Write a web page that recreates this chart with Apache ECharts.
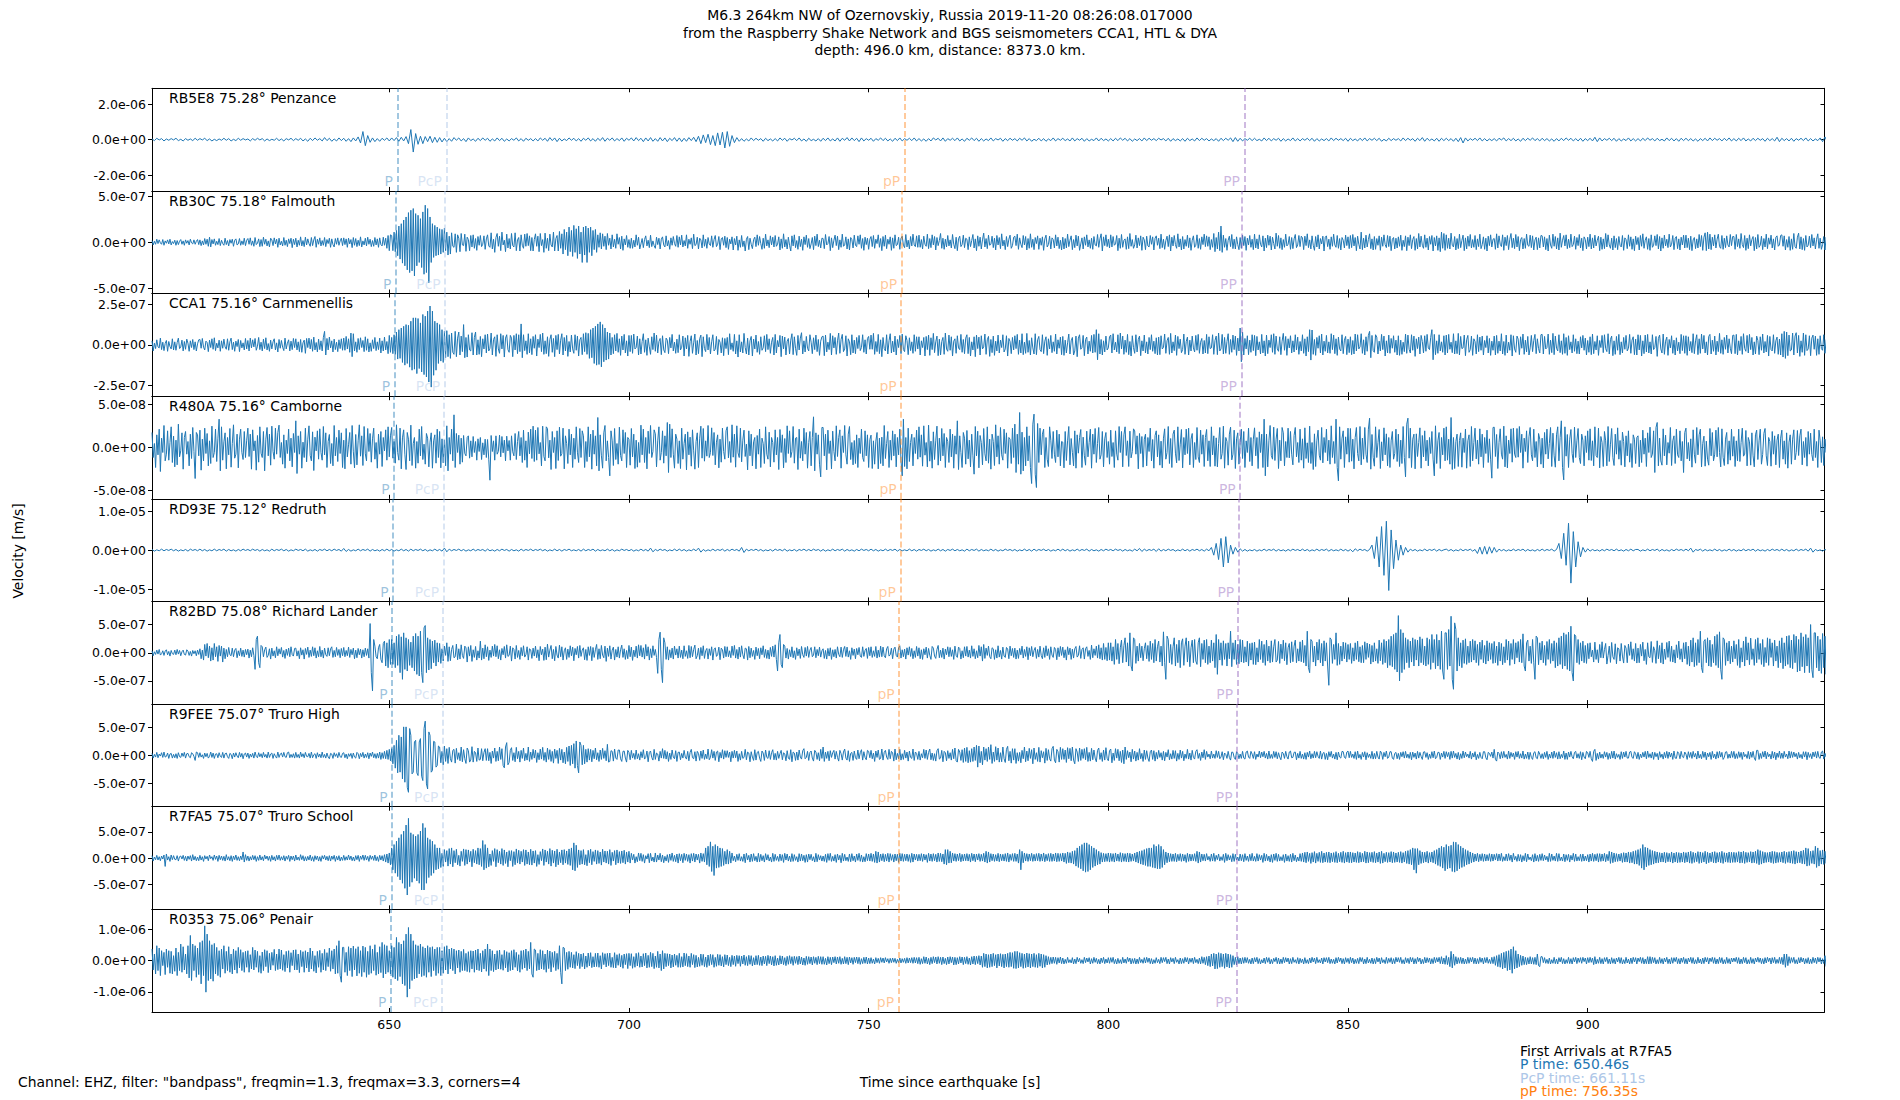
<!DOCTYPE html>
<html>
<head>
<meta charset="utf-8">
<script src="https://cdn.jsdelivr.net/npm/echarts@6/dist/echarts.min.js"></script>
<style>
  html, body { margin: 0; padding: 0; background: #fff; }
  #chart { width: 1900px; height: 1100px; }
</style>
</head>
<body>
<div id="chart"></div>
<script>
// stations, top to bottom
const stations = [
  'RB5E8 75.28° Penzance', 'RB30C 75.18° Falmouth', 'CCA1 75.16° Carnmenellis',
  'R480A 75.16° Camborne', 'RD93E 75.12° Redruth', 'R82BD 75.08° Richard Lander',
  'R9FEE 75.07° Truro High', 'R7FA5 75.07° Truro School', 'R0353 75.06° Penair'
]
// y limits (+/-) and the tick value shown on each panel
const yLimits = [2.89e-6, 5.56e-7, 3.19e-7, 5.97e-8, 1.315e-5, 9.09e-7, 9.27e-7, 9.84e-7, 1.64e-6]
const yTickValues = [2e-6, 5e-7, 2.5e-7, 5e-8, 1e-5, 5e-7, 5e-7, 5e-7, 1e-6]
// each trace is stored in integer amplitude units, one unit per panel
const ampUnits = [1.89e-8, 3.65e-9, 2.1e-9, 3.88e-10, 8.62e-8, 5.88e-9, 6.06e-9, 6.45e-9, 1.06e-8]
// sample spacing of each stored trace [s], all start at 600.5 s
const sampleSteps = [0.5, 0.25, 0.25, 0.25, 0.5, 0.25, 0.25, 0.25, 0.25]
const tStart = 600.5
const xTickValues = [650, 700, 750, 800, 850, 900]
// arrival times per station [s]
const pTimes = [651.7, 651.36, 651.13, 651.02, 650.8, 650.57, 650.57, 650.46, 650.35]
const pcpTimes = [661.9, 661.67, 661.56, 661.33, 661.33, 661.11, 661.2, 661.11, 661.0]
const pPTimes = [757.5, 756.9, 756.8, 756.8, 756.6, 756.35, 756.35, 756.35, 756.24]
const ppTimes = [828.4, 827.75, 827.75, 827.5, 827.2, 826.96, 826.85, 826.85, 826.74]
const phaseNames = ['P', 'PcP', 'pP', 'PP']
const phaseColors = ['rgba(31,119,180,0.55)', 'rgba(174,199,232,0.6)', 'rgba(255,127,14,0.55)', 'rgba(148,103,189,0.6)']

const trace_RB5E8 = [
2,-3,4,-1,3,-4,2,-2,3,-1,4,-3,1,-4,3,-2,2,-3,4,-2,
3,-1,4,-3,2,-4,1,-3,2,-2,4,-2,3,-4,1,-3,4,-2,3,-1,
2,-4,3,-2,4,-1,3,-4,2,-3,1,-2,4,-3,2,-4,3,-1,4,-3,
3,-2,4,-4,2,-5,4,-3,5,-2,3,-4,6,-3,4,-5,2,-4,5,-3,
4,-5,3,-6,5,-4,8,-10,24,-18,12,-8,5,-6,3,-5,4,-2,5,-4,
5,-3,6,-5,7,-4,9,-12,30,-37,18,-14,10,-12,9,-6,10,-9,7,-8,
6,-7,4,-6,3,-5,6,-2,5,-4,3,-6,5,-3,2,-5,4,-3,5,-2,
4,-5,2,-4,5,-3,4,-5,2,-4,3,-2,5,-4,3,-5,4,-2,3,-4,
3,-4,5,-2,4,-5,6,-3,5,-6,4,-4,2,-3,5,-2,4,-4,3,-5,
4,-2,5,-4,3,-5,4,-3,6,-5,4,-2,5,-4,3,-3,5,-5,4,-2,
5,-4,6,-3,4,-6,5,-4,6,-5,3,-5,6,-4,5,-6,4,-3,6,-5,
5,-6,4,-5,6,-3,7,-6,10,-12,14,-9,16,-15,12,-18,20,-16,22,-25,
24,-20,12,-9,6,-5,3,-5,2,-4,5,-3,4,-2,3,-5,4,-3,2,-4,
3,-4,5,-2,4,-5,3,-1,4,-3,5,-4,2,-5,4,-3,1,-4,3,-5,
4,-3,5,-4,2,-4,5,-5,4,-2,6,-4,5,-3,4,-6,5,-4,3,-2,
4,-5,3,-2,5,-3,4,-4,2,-5,4,-3,5,-4,3,-2,4,-3,5,-4,
3,-4,2,-5,3,-4,5,-1,4,-4,5,-5,3,-2,4,-3,5,-4,2,-5,
4,-2,5,-3,4,-5,3,-4,2,-3,5,-4,3,-1,4,-5,3,-3,4,-2,
3,-4,4,-2,5,-4,3,-5,1,-3,4,-4,3,-5,2,-3,5,-4,3,-2,
4,-3,2,-4,5,-4,3,-2,4,-5,3,-4,1,-3,5,-4,4,-3,2,-4,
3,-4,4,-3,5,-2,4,-4,3,-5,2,-3,3,-4,5,-3,4,-2,3,-3,
4,-1,3,-4,4,-5,3,-3,2,-4,3,-5,4,-3,2,-4,5,-3,4,-2,
3,-4,2,-3,3,-5,4,-3,4,-2,5,-6,6,-5,4,-4,3,-2,4,-3,
4,-3,1,-4,5,-3,4,-4,3,-2,4,-5,3,-4,2,-3,5,-4,3,-4,
3,-2,4,-3,4,-5,3,-4,2,-3,3,-4,5,-3,4,-2,3,-3,4,-5,
4,-3,2,-4,4,-3,5,-4,3,-2,4,-3,4,-5,1,-4,4,-3,3,-2,
3,-4,5,-3,4,-2,3,-5,4,-3,6,-5,4,-3,2,-4,4,-5,4,-3,
4,-3,3,-5,4,-6,6,-10,5,-4,3,-2,4,-3,5,-4,3,-4,2,-3,
3,-4,4,-1,5,-4,3,-3,4,-4,2,-5,4,-3,4,-2,5,-3,3,-4,
4,-3,3,-4,2,-5,3,-4,4,-3,5,-2,4,-4,3,-4,4,-5,3,-3,
4,-4,7,-6,5,-4,3,-2,4,-3,4,-5,3,-4,2,-3,5,-4,3,-4,
3,-4,4,-3,5,-2,3,-4,4,-3,1,-4,5,-3,4,-4,3,-5,4,-3,
4,-3,3,-4,2,-5,3,-3,4,-4,5,-3,4,-2,3,-4,4,-3,5,-4,
3,-4,4,-3,5,-4,2,-4,4,-3,4,-2,3,-5,4,-3,3,-4,7,-6,
4,-3,3,-4,4,-5,3,-2,4,-3,5,-4,3,-4,2,-3,5,-6,8,-7
]
const trace_RB30C = [
5,-8,3,-6,9,-4,7,-2,-6,8,-9,4,-3,7,-5,9,-8,2,-4,6,-9,5,-7,3,8,-6,4,-9,7,-3,5,-8,9,-2,-5,7,-6,3,8,-7,
7,-10,4,-8,11,-6,9,-12,15,-14,8,-5,10,-9,3,-7,11,-10,6,-4,-9,12,-7,5,-11,8,-3,9,-12,6,10,-8,-5,11,-9,4,-7,12,-10,6,
11,-6,13,-9,4,-12,14,-7,-3,10,-13,8,-12,15,-6,9,-11,4,-14,12,7,-10,13,-5,9,-15,12,-8,3,-11,14,-9,6,-13,10,-4,12,-16,9,-7,
12,-14,6,-9,16,-11,5,-13,15,-8,10,-4,-12,14,-10,7,17,-15,9,-6,13,-11,5,-9,14,-13,8,-4,12,-15,10,-7,-14,11,-6,13,-9,4,12,-10,
13,-7,10,-15,12,-5,8,-16,14,-9,11,-13,6,-10,16,-14,4,-8,12,-11,15,-6,9,-13,5,-12,14,-8,10,-15,13,-7,-11,15,-9,12,-18,20,-25,22,
20,-25,30,-28,35,-40,48,-50,55,-62,66,-70,75,-82,88,-90,95,-85,100,-100,85,-70,80,-60,70,-75,90,-95,110,-90,100,-120,75,-60,55,-45,50,-40,45,-38,
40,-35,38,-30,42,-25,30,-38,18,-35,28,-12,-15,25,-30,22,12,-28,26,-8,-10,24,-27,15,8,-25,20,-14,22,-18,11,-24,17,-9,20,-13,-6,19,-21,10,
22,-11,-15,28,-20,9,-30,14,26,-12,18,-25,30,-8,6,-28,24,-17,11,-20,26,-10,-14,28,-25,7,14,-26,22,-9,-18,24,-12,26,-10,19,-25,14,-26,8,
25,-12,18,-28,26,-10,8,-30,27,-18,12,-25,24,-8,-14,30,-26,11,20,-26,32,-18,25,-35,38,-22,30,-40,45,-28,35,-42,50,-30,40,-48,48,-35,30,-60,
45,-38,48,-60,42,-30,45,-40,35,-22,38,-30,22,-15,28,-20,25,-12,18,-22,26,-9,12,-20,22,-14,9,-18,25,-6,14,-20,18,-24,10,-8,20,-15,8,-18,
12,-18,6,-14,22,-9,15,-20,-5,11,-16,8,19,-11,6,-16,21,-13,4,-10,-18,15,-7,12,-20,9,16,-8,-14,19,-11,5,-21,13,-9,17,-4,-12,20,-15,
16,-8,21,-14,5,-11,22,-18,9,-6,13,-19,24,-10,-7,15,-20,12,7,-17,22,-12,9,-18,14,-5,-10,19,-15,8,20,-13,-6,17,-22,10,14,-9,18,-16,
14,-21,9,-5,16,-23,11,-8,18,-24,7,-15,20,-13,4,-26,9,17,-22,12,-6,-19,8,15,-13,22,-9,17,-4,-21,12,-18,24,-11,7,-16,19,-8,15,-14,
20,-12,-6,16,-23,10,-18,25,-14,8,-20,15,-9,-26,19,-11,22,-16,5,-21,18,-13,9,-24,16,-7,21,-15,11,-19,-5,14,-22,18,-10,24,-13,6,-17,12,
11,-19,23,-8,-4,17,-25,13,-16,6,21,-10,18,-22,7,-15,24,-12,-8,16,-20,10,-23,14,8,-17,21,-9,-13,19,-6,22,-18,11,-24,15,-7,12,-21,9,
17,-13,20,-18,9,-4,22,-15,11,-25,17,-12,21,-19,9,-6,16,-24,13,-18,22,-10,-7,15,-21,12,18,-9,-16,23,-14,6,-20,17,-11,24,-8,-13,19,-15,
21,-15,8,-20,18,-6,-12,24,-19,11,-16,22,-8,17,-23,14,-10,5,26,-18,12,-21,9,-14,20,-11,7,-17,23,-6,-19,15,-25,10,18,-13,-7,21,-16,12,
9,-22,16,-13,5,23,-17,10,-25,19,-12,15,-20,7,27,-14,11,-19,21,-9,-6,18,-16,12,-23,20,-8,14,-19,25,-11,6,-22,17,-13,9,21,-18,-10,15,
18,-10,24,-21,13,-6,-16,20,-8,17,-23,11,-18,25,-15,9,-22,14,-4,19,-21,12,-9,16,-24,10,21,-14,-7,18,-20,13,8,-17,22,-11,15,-19,6,-23,
15,-20,11,-17,24,-13,6,19,-22,8,-16,21,-11,18,-24,-5,13,-20,16,-9,22,-14,7,-18,12,-21,17,-8,-11,23,-15,10,25,-26,16,-10,22,-13,9,-17,
22,-14,17,-9,-5,20,-25,12,-18,23,-15,6,10,-21,16,-19,26,-12,8,-18,-8,21,-17,13,-10,19,-24,15,7,-22,18,-11,-14,20,-6,16,-23,12,19,-9,
12,-19,24,-16,9,-21,5,18,-13,22,-26,15,-11,20,-7,-18,25,-14,10,-23,17,-20,8,-12,21,-16,13,-24,6,19,-15,-9,22,-18,11,-21,16,-7,24,-13,
19,-12,16,-22,8,-15,26,-28,14,-20,30,-25,48,-30,21,-15,11,-24,6,18,-13,23,-19,9,-20,16,-7,-22,14,-18,21,-10,17,-24,12,-8,20,-15,9,-22,
24,-17,10,-20,22,-6,-14,19,-26,12,-16,21,-9,18,-23,15,-4,-20,27,-12,20,-18,13,-22,8,-15,24,-11,-6,17,-21,14,-19,10,23,-16,-8,20,-13,18,
13,-22,18,-10,25,-16,7,-20,19,-9,-24,17,-14,22,-20,11,-5,18,-26,15,19,-13,9,-21,16,-12,24,-8,-15,20,-18,11,-23,14,6,-17,21,-10,16,-19,
20,-16,23,-11,14,-25,18,-6,-20,30,-22,12,-17,21,-14,8,25,-19,10,-23,17,-21,11,-9,19,-24,15,-12,22,-7,-16,20,-13,18,-25,9,14,-20,12,-17,
16,-12,21,-24,6,-13,19,-25,15,-10,22,-19,8,17,-24,11,-20,26,-14,18,-9,-18,22,-15,12,-23,17,-6,20,-26,14,-11,19,-24,13,-28,30,-18,26,-24,
22,-18,12,-20,27,-9,-14,17,-23,11,-19,24,-16,5,21,-25,13,-20,18,-12,23,-17,8,-15,20,-22,10,-13,24,-19,-7,16,-21,12,-26,18,-10,22,-14,9,
11,-21,25,-17,19,-6,-13,22,-24,15,-10,20,-22,9,26,-16,12,-19,23,-14,17,-25,8,14,-20,11,-18,24,-9,-12,21,-16,19,-23,7,15,-22,13,-17,20,
19,-14,16,-22,11,-26,21,-8,-18,24,-12,17,-20,13,-23,27,-15,6,20,-11,22,-19,9,-16,24,-13,-7,18,-21,14,-10,23,-17,12,-25,16,8,-20,15,-13,
24,-20,13,-17,21,-11,6,18,-25,15,-21,10,-19,26,-14,22,-8,-18,12,-23,19,-16,11,-22,17,-9,-14,20,-24,13,8,-19,22,-12,16,-21,10,-25,18,-7,
14,-23,20,-12,25,-18,6,16,-21,11,-24,22,-15,-9,19,-10,23,-20,17,-26,13,-18,21,-11,9,-16,24,-14,-6,20,-22,12,17,-19,10,-23,15,-8,21,-17,
21,-16,12,-22,18,-25,7,14,-19,10,-17,23,-13,20,-24,15,28,-25,30,-20,24,-22,15,-11,22,-17,9,24,-13,-18,20,-21,12,-16,19,-8,-14,23,-10,17,
17,-21,23,-13,10,-18,26,-7,-16,20,-24,12,-19,22,-11,8,17,-25,14,-20,23,-15,-9,18,-22,11,-14,24,-19,13,-6,21,-17,10,-23,15,19,-12,-8,20,
22,-12,19,-23,8,-15,17,-24,10,-21,26,-13,-18,15,27,-20,16,-22,11,-24,20,-14,-9,18,-16,23,-11,13,-20,9,25,-18,12,-21,-7,17,-23,15,-12,20
]
const trace_CCA1 = [
12,-18,5,-11,15,-6,-9,20,-14,8,-17,4,13,-19,10,-5,-12,18,-15,9,-16,7,20,-11,-6,14,-18,10,-13,17,5,-19,12,-8,16,-14,9,-18,3,15,
16,-10,19,-7,-15,11,7,-20,14,-8,18,-13,21,-17,5,-9,14,-19,12,-10,17,-6,-13,18,-16,9,20,-14,8,-19,11,-5,16,-20,13,-9,6,-15,19,-12,
13,-18,20,-9,15,-6,19,-16,-4,22,-14,8,-18,17,-11,21,-15,4,-19,14,-12,9,18,-15,6,-21,16,-10,13,-7,-17,20,-12,5,15,-18,11,-14,19,-8,
18,-15,9,-20,16,-22,6,14,-25,19,-8,20,-12,16,-19,23,-15,7,-21,17,-14,12,-18,22,40,-30,19,-15,23,-9,12,-21,17,-14,8,-20,15,-11,18,-16,
20,-16,25,-12,18,-22,35,-35,33,-18,9,-22,19,-14,21,-8,13,-20,24,-16,18,-21,6,-19,15,-11,22,-17,9,-14,20,-24,12,-18,23,-15,10,-26,28,-22,
22,-26,30,-28,38,-42,45,-40,50,-52,55,-60,60,-55,58,-66,70,-75,80,-72,80,-85,78,-70,65,-80,90,-88,85,-95,100,-110,115,-125,100,-90,70,-75,65,-55,
60,-48,45,-52,40,-38,42,-35,30,-40,35,-22,-28,40,-35,20,38,-30,26,-20,60,-38,22,-36,30,-15,-18,36,-30,22,38,-30,15,-28,25,-35,18,-12,30,-24,
32,-18,-10,35,-30,16,24,-34,30,-12,-25,33,-12,28,-36,20,30,-14,-22,28,20,-35,28,-15,33,-26,30,-20,62,-38,30,-17,12,-28,33,-24,18,-29,25,-10,
30,-33,17,-8,31,-20,35,-28,12,-26,24,-34,16,30,-22,19,-35,28,-14,31,-27,14,33,-30,22,-18,28,-34,10,-21,29,-12,-25,30,-16,26,-33,15,22,-29,
33,-20,36,-28,34,-40,45,-38,50,-55,55,-60,62,-58,68,-65,60,-50,50,-45,38,-42,35,-30,22,-26,30,-18,34,-22,18,-31,26,-15,31,-24,12,-33,28,-20,
28,-25,32,-12,-8,26,-30,18,-27,10,33,-22,15,-31,20,-6,-28,24,-14,35,-19,29,-24,10,19,-29,27,-15,-23,20,14,-26,22,-9,31,-18,8,-25,17,-23,
30,-15,-7,26,-33,21,-12,28,-34,10,27,-25,6,32,-30,13,-26,18,29,-35,24,-11,-20,31,-15,22,-27,9,30,-18,-13,25,-29,16,8,-24,21,-32,19,-11,
22,-29,33,-14,6,-19,31,-27,12,-36,30,-21,9,-24,34,-8,-27,20,-30,12,25,-33,17,-12,29,-22,10,-28,24,-16,-9,27,-20,31,-14,18,-25,8,22,-30,
31,-24,13,-6,28,-35,26,-12,23,-30,11,19,-27,14,33,-29,24,-10,-31,28,-15,20,36,-27,12,-21,25,-10,-18,30,8,-26,21,-14,29,-20,16,-31,11,24,
26,-32,29,-21,8,-14,34,-30,27,-9,22,-28,12,35,-25,16,31,-20,-12,27,-33,18,9,-29,30,-24,14,-26,22,-11,28,-17,-8,30,-22,15,-27,19,25,-13,
29,-13,34,-28,10,-20,31,-26,15,-35,22,-11,-18,30,-27,12,33,-24,11,-21,26,-30,16,-8,28,-26,32,-14,-20,27,13,-29,21,-17,9,-25,30,-19,24,-12,
24,-30,12,-8,22,-33,25,-14,29,-31,21,-14,34,-23,9,26,-32,17,-30,10,22,-28,35,-12,-19,29,-16,24,-33,11,18,-25,27,-9,-14,31,-22,16,-26,20,
30,-26,22,-33,9,-15,24,-35,29,-11,23,-30,27,-12,-6,32,-28,15,25,-34,16,-23,26,-31,11,-18,29,-24,14,-8,30,-21,-12,27,-33,19,10,-26,22,-15,
27,-11,31,-28,14,-24,33,-29,8,-25,34,-22,13,-30,21,-9,-27,33,-29,15,25,-14,-20,30,-26,11,24,-31,18,-12,28,-23,9,-19,32,-27,15,-10,23,-29,
25,-31,14,-24,6,32,-27,12,22,-30,-18,26,-35,20,30,-13,-8,28,-32,16,23,-27,11,-19,28,-24,31,-22,45,-44,33,-27,16,-30,12,-21,26,-15,-9,24,
29,-24,33,-15,8,-21,30,-26,35,-12,26,-28,14,-22,31,-29,10,-33,27,-8,-25,30,-21,16,26,-32,12,-18,29,-24,9,-27,22,-14,30,-19,11,-26,21,-30,
23,-29,27,-12,-8,32,-25,12,22,-28,34,-24,9,-17,29,-31,25,-11,17,-23,-14,32,-28,10,23,-30,14,-18,26,-9,-21,28,-16,31,-25,8,19,-27,13,-24,
31,-26,24,-11,-9,30,-28,13,26,-29,35,-18,-12,31,-27,22,-25,10,33,-28,16,-22,29,-14,26,-31,20,-18,50,-50,38,-30,19,-12,27,-29,14,-22,30,-17,
28,-32,25,-15,9,-27,31,-24,12,-33,29,-26,14,-8,30,-22,33,-28,26,-12,-19,24,-29,11,34,-16,25,-31,18,-9,27,-24,12,-21,30,-15,23,-28,10,-18,
30,-25,18,-33,24,-20,45,-45,44,-28,16,-31,22,-10,27,-24,32,-30,11,-19,28,-24,9,-25,33,-14,29,-26,18,-31,23,-12,-18,30,-26,14,25,-29,17,-23,
24,-29,13,-27,32,-18,30,-12,-6,33,-25,15,-30,24,-19,28,40,-38,28,-17,-22,30,23,-27,11,-18,31,-14,26,-33,12,-24,29,-25,19,-10,27,-22,14,-30,
27,-31,14,-28,8,-20,32,-25,29,-13,-24,30,-16,26,-34,18,-11,23,-27,28,10,-24,27,-19,31,-9,-14,22,45,-44,31,-29,12,-25,30,-18,9,-22,27,-30,
29,-24,31,-13,8,-23,33,-27,12,-26,34,-30,25,-11,-9,29,-32,15,28,-22,-14,26,-31,18,10,-27,30,-20,23,-16,26,-30,13,-8,27,-24,19,-31,11,-16,
26,-30,28,-25,11,-18,33,-27,10,-31,29,-24,8,-16,30,-33,27,-12,-22,26,17,-29,24,-10,32,-28,14,-21,25,-30,-9,28,-20,13,31,-26,18,-11,-24,30,
31,-27,25,-12,-8,32,-28,14,-23,34,-29,26,-10,-18,30,-23,12,-28,33,-25,22,-31,27,-14,9,-24,30,-19,18,-26,11,-27,24,-9,28,-16,20,-30,13,-22,
24,-29,32,-26,10,-15,27,-31,13,-8,28,-23,30,-11,-20,33,-27,16,26,-32,12,-28,25,-16,31,-29,9,-24,22,-13,28,-18,-10,31,-25,14,24,-29,17,-30,
30,-15,28,-33,12,-26,29,-21,31,-24,9,-27,30,-14,-8,25,-34,19,29,-12,-24,32,-28,11,23,-31,16,-9,27,-25,14,-30,21,-18,8,-26,31,-17,27,-25,
27,-31,24,-18,10,-23,33,-26,12,30,-29,18,-25,32,-12,28,-24,9,-30,25,31,-27,14,-19,26,-30,11,-20,34,-25,15,-28,22,-13,29,-24,18,-10,-26,28,
29,-26,31,-30,12,-17,25,-28,33,-11,-19,28,-24,31,-14,22,-30,9,-27,26,13,-29,24,-16,32,-24,10,-21,28,-33,25,-14,-18,30,-25,12,23,-28,17,-30,
33,-36,40,-40,38,-32,29,-18,-15,35,-30,26,36,-24,28,-34,12,-22,35,-31,30,-17,-12,27,-32,20,29,-13,26,-31,18,-28,27,-11,-16,30,-25,14,28,-27
]
const trace_R480A = [
45,-30,12,-60,38,-22,55,-72,28,-15,66,-40,-20,50,-38,15,62,-45,34,-58,22,-52,70,-28,-10,44,-65,30,48,-20,18,-55,40,-33,60,-12,-93,45,38,-25,
52,-68,25,-40,58,-18,42,-55,20,-48,64,-30,-15,55,-42,28,85,-70,62,-38,17,44,-64,30,-22,57,-59,12,68,-32,-20,40,-61,25,55,-15,-36,48,-30,22,
58,-27,40,-65,53,-10,20,-68,36,-44,62,-17,-30,48,-70,25,60,-25,40,-53,64,-12,-35,58,-20,45,67,-30,15,-50,38,-62,22,-18,55,-40,28,-58,42,-15,
80,-78,35,-20,48,-62,16,-30,58,-43,25,65,-24,-40,47,-69,31,-10,50,-35,56,-15,-38,63,-22,44,-60,18,39,-48,12,-55,66,-25,30,-42,52,-18,44,-60,
22,-64,57,-28,8,45,-50,66,-13,-61,39,-52,20,68,-26,35,-54,63,-19,-40,57,-12,42,-44,26,58,-35,15,-62,40,-20,48,-57,30,-10,53,-38,62,-28,35,
60,-32,18,-47,68,-15,-38,58,-64,29,53,-20,-66,45,25,-40,67,-54,12,30,-62,18,-47,55,-25,63,-36,10,-50,42,28,-58,16,44,-62,20,38,-47,55,-30,
48,-61,26,-46,23,-55,65,-70,30,-20,55,-40,98,-60,42,-15,37,-50,28,-44,36,-18,-25,30,35,-32,20,-28,33,-15,18,-38,26,-12,30,-36,14,-22,25,-30,
24,-35,-98,36,-12,20,-38,35,-20,-12,37,-28,33,-16,22,-40,34,-10,21,-38,35,-13,-25,42,-36,18,48,-25,30,-45,52,-38,20,-60,46,-19,55,-33,64,-42,
52,-38,60,-19,15,-55,64,-27,-40,62,57,-31,22,-66,48,-15,30,-63,50,-39,61,-26,-18,58,-64,35,12,-48,55,-22,40,-60,28,-35,62,-14,-45,57,-30,50,
35,-60,18,-42,62,-28,40,-65,52,-20,35,-55,90,-70,38,-25,-62,44,66,-40,20,-30,-85,50,20,-54,57,-36,12,-50,61,-24,-40,53,-18,45,-60,30,24,-53,
57,-28,40,-63,22,-59,15,-45,67,-22,55,-45,30,-64,49,-18,66,-30,-12,53,41,-58,20,62,-38,-15,50,-47,35,-25,75,-75,70,-30,56,-20,-62,40,25,-48,
20,-63,58,-35,12,40,-67,47,-22,31,-56,53,-10,-65,18,44,-60,28,64,-32,57,-41,20,-26,66,-30,-15,59,-24,45,-52,16,38,-61,25,-44,58,-12,-35,50,
62,-31,18,-45,68,-29,40,-59,65,-16,-30,58,-43,22,52,-27,10,-67,50,-25,40,-55,17,30,-64,36,-20,55,-60,28,12,-48,62,-20,-35,46,-58,30,15,-44,
53,-22,30,-66,54,-15,38,-61,27,-45,65,-18,50,-30,-12,63,-47,28,30,-66,55,-32,18,-40,58,-20,45,-62,15,48,-55,30,92,-70,44,-20,38,-50,-88,60,
60,-25,40,-67,52,-18,20,-64,49,-12,-40,65,-27,30,53,-62,35,-15,66,-22,-50,40,63,-36,15,-52,21,-48,38,-60,28,-18,55,-30,-42,50,-25,38,-60,24,
37,-63,20,-50,19,45,-64,28,-48,31,-55,66,-33,12,48,-60,22,-38,50,-25,40,-58,30,-22,55,-40,-85,85,-57,30,-64,58,-42,15,40,-55,30,-18,52,-35,
62,-29,38,-56,65,-23,15,-58,67,-41,19,-62,47,-36,20,64,-53,28,-40,57,-25,42,-60,30,18,-45,55,-28,40,-62,35,-20,80,-66,35,-15,-60,45,28,-50,
51,-34,22,-58,40,-25,-80,63,-25,49,-61,36,15,-52,57,-19,-40,62,-47,25,-65,40,18,-54,68,-28,35,-50,60,-22,-38,55,-18,44,-62,30,25,-48,58,-30,
70,-75,40,-50,105,-80,46,-70,30,-55,62,-40,35,-60,-108,70,100,-80,-120,72,-45,58,-22,40,55,-60,30,-35,-57,62,22,-33,48,-20,-45,52,-28,40,-55,18,
16,-61,48,-39,20,63,-52,27,-15,-55,50,-62,38,-17,30,54,-60,31,-25,-53,49,-28,15,55,-62,40,-20,57,-45,12,60,-35,-22,48,-58,26,45,-30,18,-50,
52,-27,15,-60,50,-20,-38,63,-15,48,-58,38,62,-24,20,-57,49,-31,-12,56,50,-20,35,-64,42,-18,33,-59,25,40,-55,30,-12,58,-40,24,-62,36,50,-28,
38,-53,19,-61,28,56,-35,-15,63,-48,27,-60,40,52,-17,-46,62,-39,10,54,-61,30,-22,55,-18,58,-52,25,42,-60,15,-36,60,-28,-45,52,-20,38,-57,30,
54,-40,20,-57,62,-22,35,-56,29,-58,12,60,-35,-18,64,-62,30,18,-53,40,61,-37,-20,52,-63,26,44,-50,15,55,-33,48,-60,20,-15,58,-42,30,-55,25,
59,-25,30,-63,47,-15,40,-60,85,-85,40,-58,20,66,-24,-35,61,-39,25,57,-63,22,-40,60,44,-55,18,-30,58,-31,48,-20,-52,36,60,-28,15,-45,55,-38,
26,-62,59,-33,14,-45,64,-48,15,-66,41,-57,20,52,-23,-38,60,-46,30,-15,55,-40,22,-50,65,-30,18,-48,85,-60,-100,62,-35,28,50,-60,32,-20,58,-44,
57,-41,25,-64,30,60,-18,-40,63,-52,28,-35,60,-20,-45,55,88,-65,39,-30,-56,62,-30,15,54,-63,17,-40,59,-22,41,-55,30,-60,20,48,-35,-18,55,-42,
40,-57,22,-48,63,-30,-88,70,88,-32,58,-60,25,40,-64,41,-27,15,59,-62,36,-28,50,-40,22,-55,30,-18,48,-35,-85,65,-48,20,45,-63,30,-22,58,-40,
62,-38,25,-50,90,-66,30,-63,18,40,-57,21,44,-59,28,-15,55,-62,20,38,-57,63,-40,15,58,-34,22,-50,56,-28,40,-60,30,-18,52,-45,26,-35,-92,60,
61,-27,39,-63,15,56,-20,-35,64,-58,35,-61,22,-18,56,-44,58,-20,-30,57,-29,63,-15,40,-62,28,-12,50,-45,32,60,-22,-40,55,-30,18,-58,42,25,-50,
28,-61,45,-20,55,-34,12,60,-57,43,-25,-59,38,62,-40,30,80,-60,-97,62,-26,39,-60,25,54,-18,-45,61,-30,20,57,-30,-48,40,22,-55,35,-15,50,-38,
56,-39,20,-55,62,-24,-30,58,-61,33,15,-57,48,20,-55,63,-42,10,57,-30,-54,40,-20,59,-35,21,-53,46,18,-58,35,-25,50,-44,12,-60,38,25,-48,30,
35,-58,22,-45,52,-20,28,-57,44,-15,61,-30,-20,50,-75,60,75,-55,28,-40,-53,56,-25,37,-52,15,-17,60,-54,20,35,-48,55,-22,-30,50,-40,18,-75,45,
58,-34,15,-40,26,-59,53,-20,-47,60,-22,38,55,-58,12,34,-56,19,-35,-53,57,-25,45,-40,-20,52,-28,60,-15,-58,56,-30,-54,25,45,-50,20,-38,55,-26,
33,-57,20,-40,55,-42,15,58,-26,-20,51,-55,30,17,-53,44,-25,-58,38,52,-36,20,55,-50,-21,42,57,-25,-54,30,18,-56,48,-20,35,-52,22,40,-60,28,
52,-35,20,-50,44,-62,16,38,-50,25,53,-37,-15,51,-24,35,55,-52,18,-30,30,-56,48,-20,43,-21,-40,55,-30,18,-60,52,20,-45,32,-54,25,-15,48,-40
]
const trace_RD93E = [
2,-3,1,-2,3,-2,2,-1,3,-2,2,-3,1,-2,2,-3,3,-1,2,-2,
3,-2,2,-3,1,-2,3,-2,2,-1,3,-3,2,-2,1,-3,2,-2,3,-1,
2,-2,3,-1,2,-3,2,-2,1,-3,3,-2,2,-1,3,-2,2,-3,1,-2,
3,-1,2,-2,3,-3,1,-2,2,-3,2,-1,3,-2,2,-2,3,-1,2,-3,
5,-4,2,-3,1,-2,3,-2,2,-1,3,-3,2,-2,1,-3,2,-2,3,-2,
2,-3,1,-2,3,-2,2,-3,3,-2,2,-1,3,-2,2,-3,1,-2,3,-2,
2,-3,6,-5,3,-2,2,-1,3,-2,2,-3,1,-2,3,-2,2,-1,2,-3,
3,-2,1,-3,2,-2,3,-1,2,-3,2,-2,1,-3,3,-2,2,-1,3,-2,
2,-1,3,-2,2,-3,1,-2,3,-2,2,-3,2,-1,3,-2,1,-2,2,-3,
3,-2,2,-1,3,-3,2,-2,1,-2,3,-2,2,-3,1,-2,3,-1,2,-2,
2,-3,1,-2,3,-2,2,-3,6,-5,2,-2,3,-1,2,-3,1,-2,3,-2,
3,-2,2,-3,1,-2,3,-2,6,-6,2,-3,1,-2,3,-2,2,-1,3,-3,
2,-2,3,-1,2,-3,8,-7,3,-2,2,-1,3,-2,2,-3,1,-2,2,-3,
3,-1,2,-2,3,-3,1,-2,2,-3,2,-1,3,-2,2,-2,3,-1,2,-3,
2,-3,1,-2,3,-2,2,-1,3,-3,2,-2,1,-3,2,-2,3,-1,2,-2,
3,-2,2,-3,1,-2,3,-2,2,-1,3,-3,2,-2,1,-2,3,-2,2,-3,
2,-1,3,-2,2,-3,1,-2,3,-2,2,-3,2,-1,3,-2,2,-2,1,-3,
3,-2,2,-1,3,-3,2,-2,1,-2,3,-2,2,-3,1,-2,3,-1,2,-2,
2,-3,1,-2,3,-2,2,-3,3,-2,2,-1,3,-2,2,-3,1,-2,3,-2,
3,-2,2,-3,1,-2,3,-2,2,-1,3,-3,2,-2,1,-3,2,-2,3,-1,
2,-2,3,-1,2,-3,2,-2,1,-3,3,-2,5,-4,3,-2,2,-1,3,-4,
4,-3,2,-2,3,-1,2,-3,1,-2,3,-2,2,-3,2,-1,3,-2,2,-3,
3,-2,8,-15,20,-28,35,-50,40,-38,15,-12,8,-6,4,-3,2,-3,1,-2,
2,-3,1,-2,3,-2,2,-1,3,-3,2,-2,1,-3,2,-2,3,-1,2,-2,
3,-2,2,-3,1,-2,3,-2,2,-1,3,-3,2,-2,1,-2,3,-2,2,-3,
2,-5,4,-2,3,-1,2,-3,2,15,-25,40,-50,70,-75,86,-120,60,-55,30,
-30,15,-15,8,-6,3,-2,2,-3,1,-2,3,-2,2,-1,3,-3,2,-2,1,
3,-2,2,-3,1,-2,3,-2,2,-1,3,-3,2,-10,9,-12,11,-12,10,-9,
8,-6,3,-2,2,-3,1,-2,3,-2,2,-1,3,-3,2,-2,1,-3,2,-2,
3,-2,2,-1,3,-3,2,20,-25,50,-45,80,-98,55,-50,25,-20,8,-6,4,
-3,2,-2,1,-3,2,-2,3,-1,2,-2,3,-2,1,-3,2,-2,3,-2,2,
2,-3,1,-2,3,-2,2,-1,3,-3,2,-2,1,-3,2,-2,3,-1,2,-2,
3,-2,6,-6,2,-1,3,-3,2,-2,1,-2,3,-2,2,-3,1,-2,3,-2,
2,-3,1,-2,3,-2,2,-1,3,-3,2,-2,1,-3,2,-2,3,-1,2,-2,
3,-2,2,-3,1,-2,3,-2,2,-1,3,-3,6,-6,2,-2,1,-3,2,-2
]
const trace_R82BD = [
6,-9,3,-5,8,-4,10,-7,-3,6,-8,5,9,-6,4,-10,7,-3,-5,8,-6,10,-4,7,-9,3,8,-5,-7,9,5,-8,4,-10,7,-3,6,-9,8,-5,
12,-18,8,-22,25,-10,28,-15,20,-25,15,-22,28,-12,18,-26,22,-10,20,-28,14,-18,10,-12,16,-6,-9,14,-12,8,13,-15,6,-9,14,-11,8,-13,10,-6,
11,-16,8,-12,15,-8,-50,40,50,-30,-45,22,18,-12,9,17,-14,-8,12,-19,14,-10,6,-15,18,-9,12,-4,16,-13,7,-17,11,-8,14,-12,18,-6,-10,13,
14,-10,6,-18,15,-7,9,-19,13,-5,17,-14,8,-11,18,-9,15,-16,6,-12,19,-12,8,-16,14,-6,-11,15,-9,12,18,-14,7,-12,16,-8,10,-15,13,-9,
16,-12,7,-9,17,-14,10,-6,14,-18,8,-15,13,-6,11,-16,9,-12,14,-8,12,-16,88,-60,-115,40,20,-12,-18,15,25,-20,-30,28,35,-40,30,-45,40,-35,
40,-35,30,-45,50,-38,55,-60,48,-80,60,-50,45,-55,40,-38,32,-45,50,-55,58,-65,50,-70,65,-60,-90,75,82,-60,45,-52,40,-48,35,-30,38,-40,30,-28,
28,-32,12,-25,20,-8,30,-26,18,-24,10,22,-15,-12,26,-21,12,-19,24,-8,-17,20,15,-28,18,-10,22,-26,9,-14,19,-22,6,-16,35,-22,14,-18,24,-12,
18,-23,8,-14,20,-10,25,-12,21,-18,9,-22,13,-6,19,-16,24,-11,-8,20,-25,15,10,-19,22,-14,7,-20,16,-9,21,-13,-6,18,-22,12,9,-17,14,-10,
20,-15,9,-24,19,-6,11,-23,17,-21,26,-13,8,22,-18,10,-24,19,-7,-16,23,-12,18,-22,6,15,-20,11,-14,21,-9,17,-24,13,-6,19,-16,22,-11,8,
15,-21,10,-23,18,-8,19,-24,16,-14,9,25,-20,12,-18,22,-7,-15,20,-26,14,-11,21,-19,8,17,-22,10,-13,18,-16,9,23,-14,12,-20,7,-18,22,-12,
17,-23,8,-12,20,-16,24,-9,22,-13,15,-19,25,-10,18,-22,12,-15,21,-8,10,-14,-62,40,62,-50,-90,45,30,-20,18,-22,9,-15,14,-19,20,-7,12,-16,
20,-14,8,-18,21,-11,6,-17,22,-15,19,-12,10,23,-18,-9,14,-20,16,-9,21,-17,6,13,-19,12,-8,18,-22,10,15,-11,-6,17,-21,14,9,-16,19,-12,
18,-12,6,-15,20,-8,22,-16,10,-19,17,-13,21,-6,-18,14,12,-22,19,-15,14,-11,7,-20,17,-9,13,-18,15,-6,21,-14,10,-17,8,-19,16,-11,20,-13,
24,-20,-55,30,55,-35,-45,25,20,-16,13,-19,9,-12,18,-15,6,-20,15,-9,11,-17,19,-6,-14,16,-10,19,-14,8,16,-12,-7,18,-15,10,-9,17,-13,6,
12,-17,7,-19,13,-10,15,-20,9,-12,10,-16,18,-5,-12,17,-14,9,19,-11,17,-13,6,-20,15,-8,11,-18,13,-6,16,-10,-14,18,-11,7,13,-17,16,-9,
18,-14,6,-11,19,-16,8,-13,20,-12,17,-9,-15,12,19,-10,-6,14,-18,11,17,-8,-13,15,21,-16,9,-12,11,-19,15,-7,18,-11,13,-18,6,-14,19,-10,
15,-18,9,-20,12,-6,17,-16,13,-8,-20,19,14,-10,-17,10,22,-15,8,-14,14,-19,11,-6,18,-12,16,-11,9,-20,20,-8,-14,17,13,-19,6,-15,18,-10,
19,-13,8,-16,21,-11,12,-18,6,-15,22,-10,18,-25,25,-17,14,-8,20,-12,-18,15,12,-20,9,-16,21,-13,7,-19,17,-10,-14,16,11,-18,20,-9,13,-14,
14,-19,8,-17,13,-6,20,-16,10,-11,18,-21,15,-9,19,-12,7,16,-17,10,-13,20,-8,-18,15,-14,21,-9,12,-20,18,-7,-14,16,10,-21,15,-12,19,-8,
17,-15,9,-22,18,-6,14,-20,11,-16,12,19,-13,-8,21,-17,10,15,-19,12,18,-11,7,-20,23,-15,12,-8,20,-16,24,-18,15,-22,28,-20,16,-24,30,-22,
30,-25,18,-35,40,-20,28,-33,15,38,-30,22,45,-28,30,-40,60,-40,-55,45,40,-32,20,-25,28,-15,20,-24,12,30,-18,22,-26,35,-20,28,-30,40,-25,18,
35,-28,20,-40,63,-30,-80,50,40,-30,25,-35,18,45,-40,25,-30,38,-45,30,42,-38,20,45,-28,35,-42,15,38,-30,40,-25,-35,30,45,-42,28,-20,38,-30,
40,-35,20,-30,38,-25,30,-45,55,-65,40,-22,30,-38,36,-20,28,-40,30,-18,65,-42,30,-20,38,-35,25,-33,40,-28,38,-30,18,-28,35,-40,28,-22,30,-35,
32,-36,15,-28,40,-20,35,-30,25,-38,38,-25,20,-30,36,-28,18,40,-28,-22,34,-32,26,-18,38,-24,30,-36,15,28,-30,33,-27,20,38,-30,12,-25,33,-27,
38,-30,22,-40,65,-45,-60,40,35,-28,20,-40,32,-22,40,-30,28,-40,36,-25,30,-40,-98,45,40,-32,25,-20,60,-38,28,-35,20,-25,32,-18,30,-28,25,-20,
28,-32,15,-25,30,-20,35,-27,18,-30,22,-30,33,-20,29,-14,26,-34,22,-28,30,-25,12,-32,38,-24,30,-35,40,-30,35,-45,40,-38,50,-42,55,-50,60,-58,
112,-85,70,-60,60,-50,45,-30,40,-45,35,-28,45,-40,40,-22,38,-40,48,-30,42,-36,20,-40,45,-35,40,-50,55,-30,40,-48,55,-40,38,-50,65,-55,-80,60,
60,-50,70,-40,110,-80,-110,90,70,-55,45,-40,30,-45,38,-32,42,-35,20,-30,35,-28,40,-22,36,-30,25,-38,32,-20,38,-30,22,-34,36,-25,30,-20,28,-32,
34,-30,20,-38,32,-25,28,-36,18,-30,40,-22,35,-38,28,-20,40,-34,30,-15,34,-28,40,-30,57,-40,-55,30,38,-25,20,-32,40,-30,-80,50,45,-36,30,-22,
35,-30,22,-38,34,-20,40,-32,28,-25,36,-45,30,-40,45,-35,50,-48,60,-40,55,-50,62,-55,80,-60,-85,55,50,-30,40,-35,30,-25,35,-30,22,-32,28,-18,
30,-12,8,-28,32,-20,9,-30,25,-15,33,-16,10,28,-34,-8,20,-29,31,-12,-20,27,-33,15,12,-25,28,-10,-31,22,14,-30,26,-8,33,-20,12,-25,28,-31,
14,-30,25,-10,32,-24,10,-35,30,-12,-15,34,-29,18,6,-32,36,-18,22,-30,30,-34,11,-20,31,-14,35,-26,20,-28,9,-31,24,-15,35,-20,12,-28,30,-18,
32,-35,20,-40,38,-28,45,-42,30,-38,40,-30,65,-45,-60,35,40,-30,45,-40,38,-42,25,-30,50,-38,55,-45,63,-50,-80,45,40,-38,30,-25,35,-33,20,-28,
36,-18,25,-38,40,-45,15,-28,35,-40,48,-22,30,-36,44,-20,12,-38,40,-30,45,-20,28,-35,40,-42,16,-30,45,-38,42,-14,30,-40,38,-25,20,-45,36,-30,
45,-48,30,-40,50,-35,52,-45,38,-48,55,-30,50,-58,40,-55,60,-42,48,-60,55,-40,45,-60,85,-50,-75,60,60,-45,50,-55,40,-62,58,-45,50,-65,55,-60
]
const trace_R9FEE = [
6,-8,3,-5,9,-7,4,-2,8,-6,10,-5,-3,7,-9,4,6,-8,3,-7,5,-9,8,-4,-6,7,-3,9,-8,5,6,-4,-7,8,5,-3,-15,10,8,-6,
8,-5,2,-9,7,-4,6,-8,-3,10,-6,7,-9,4,5,-7,8,-3,-6,9,-8,5,7,-4,-9,6,3,-10,7,-5,8,-2,-7,9,-5,6,-10,4,7,-5,
7,-9,4,-5,6,-8,10,-3,-7,8,-4,5,-7,9,-5,3,-8,10,-6,4,7,-9,5,-3,-8,10,-6,4,7,-5,9,-4,-6,8,10,-7,3,-6,5,-8,
9,-6,3,-8,10,-4,5,-7,9,-3,-4,6,-8,10,-7,2,5,-9,8,-5,4,-7,10,-6,3,-8,7,-5,-10,6,4,-9,8,-3,5,-7,9,-4,-6,6,
8,-7,4,-10,5,-3,6,-9,7,-5,-8,9,5,-10,6,-4,9,-8,4,-6,8,-10,7,-3,10,-7,5,-9,6,-8,10,-12,8,-9,12,-10,15,-12,18,-16,
20,-25,30,-38,45,-52,60,-50,55,-70,85,-80,85,-95,-110,80,60,-55,-50,40,45,-52,-60,40,50,-62,-75,80,102,-85,-100,70,60,-50,-45,42,40,-35,-30,28,
25,-22,12,-28,28,-18,20,-24,24,-10,-20,15,18,-23,21,-12,8,-16,25,-19,17,-10,-24,22,14,-20,-14,26,-20,12,8,-18,22,-14,-12,20,-16,9,20,-15,
20,-16,9,-24,13,-8,22,-18,12,-16,25,-12,20,-30,-37,25,38,-28,-21,15,23,-15,8,-19,24,-10,12,-20,15,-9,22,-16,6,-14,25,-18,10,-12,18,-8,
16,-21,8,-13,19,-11,24,-15,9,-20,22,-12,17,-18,12,-23,19,-9,15,-24,21,-14,18,-22,10,-25,24,-18,28,-30,30,-25,35,-38,43,-30,-52,40,30,-28,
30,-25,18,-20,20,-14,18,-19,15,-10,22,-13,8,-18,16,-12,21,-9,14,-16,33,-20,-18,14,12,-17,19,-8,-12,16,16,-10,-18,12,13,-8,-20,15,9,-13,
15,-8,6,-12,16,-10,5,-14,11,-7,17,-11,-6,13,-19,9,13,-6,-14,18,-12,7,4,-17,12,-8,20,-9,15,-11,11,-18,7,-12,16,-5,-10,14,-18,9,
10,-13,6,-8,15,-5,-11,12,-16,9,18,-7,-10,11,-17,12,6,-15,13,-9,16,-12,4,-10,19,-13,-6,17,-8,12,-15,10,13,-19,9,-8,17,-11,14,-6,
14,-6,10,-19,12,-8,15,-7,13,-18,5,-14,12,-9,-6,18,-13,10,7,-19,11,-5,-15,17,-14,9,12,-8,-18,13,7,-15,16,-6,-9,14,-12,8,17,-13,
6,-14,12,-9,5,15,-13,8,4,-16,14,-8,-12,17,-19,10,7,-15,10,-14,16,-5,-11,14,20,-10,-6,12,-15,9,13,-8,-17,15,10,-12,8,-16,18,-9,
25,-18,10,-9,12,-16,14,-6,8,15,-11,12,-6,-17,15,5,-14,10,19,-8,-14,14,-18,6,9,-15,13,-7,-12,16,-10,8,17,-14,11,-6,-13,15,12,-7,
15,-10,7,-18,13,-6,16,-12,-9,19,-14,9,15,-5,-12,18,-10,12,8,-17,19,-13,6,-10,18,-14,5,-12,15,-8,10,-17,13,-6,-9,19,-15,10,6,-12,
12,-14,5,-7,18,-9,16,-12,9,19,-13,7,-15,5,-17,14,20,-11,-8,15,-19,12,8,-16,14,-9,8,-14,18,-10,22,-16,-20,18,10,-15,17,-21,22,-18,
24,-22,14,-20,20,-18,25,-15,30,-35,28,-22,12,-28,25,-14,20,-18,25,-12,32,-24,10,-18,26,-14,22,-20,8,-19,25,-10,-21,18,27,-16,12,-23,20,-14,
20,-24,8,-17,9,-22,15,-10,25,-19,13,-16,21,-9,17,-25,22,-12,8,-18,24,-20,14,-7,11,-23,21,-15,17,-10,-17,20,27,-14,-22,18,11,-20,24,-12,
20,-12,16,-21,23,-10,21,-16,25,-14,-25,20,10,-18,22,-15,18,-9,20,-13,24,-18,9,-17,21,-13,16,-8,-19,15,22,-12,8,-18,16,-14,23,-9,-16,14,
19,-22,7,-15,20,-8,18,-16,12,-21,16,-25,25,-12,14,-7,10,-19,18,-11,13,-17,9,-14,20,-10,6,-18,16,-12,14,-8,-18,11,16,-12,14,-17,9,-11,
15,-6,8,-14,12,-16,9,-5,17,-13,5,-11,15,-9,14,-17,6,-12,16,-8,12,-16,4,-9,18,-11,7,-14,15,-6,-11,12,17,-9,6,-15,10,-7,17,-12,
12,-5,4,-10,13,-8,4,-9,14,-6,12,-10,-5,11,-13,7,3,-9,12,-6,-14,10,9,-6,-12,11,6,-10,4,-9,12,-8,-11,10,13,-5,-9,12,4,-9,
11,-12,4,-5,13,-7,10,-4,12,-8,6,-11,13,-9,3,-9,12,-6,11,-10,8,-5,-13,10,6,-9,12,-4,-11,10,13,-7,-6,9,10,-13,6,-8,12,-9,
4,-11,8,-12,9,-5,13,-10,5,-8,12,-7,11,-3,-9,13,-11,6,9,-12,6,-13,11,-4,12,-8,4,-11,9,-13,10,-5,-8,12,11,-6,-9,10,13,-7,
12,-6,4,-9,11,-12,13,-8,3,-12,9,-5,11,-13,8,-6,4,-9,12,-11,6,-10,12,-5,-11,13,7,-12,9,-4,13,-9,-5,11,11,-8,-12,6,9,-10,
6,-12,9,-4,11,-8,12,-7,4,-9,9,-13,10,-6,7,-11,12,-8,9,-3,-12,10,11,-6,8,-12,4,-9,11,-7,13,-10,-6,9,9,-12,7,-5,12,-9,
11,-4,9,-12,12,-8,13,-6,6,-11,9,-13,5,-9,13,-7,10,-4,4,-8,12,-11,7,-5,11,-13,3,-9,9,-6,-10,11,11,-7,-13,9,6,-3,10,-8,
18,-12,-17,10,6,-10,11,-8,12,-6,3,-11,13,-9,9,-4,7,-12,11,-5,12,-9,5,-8,13,-11,4,-9,10,-12,9,-6,-12,8,11,-7,-10,12,4,-9,
5,-10,9,-6,12,-12,4,-8,10,-9,13,-6,8,-11,11,-10,3,-7,13,-12,7,-12,10,-5,12,-4,-10,9,12,-8,5,-9,11,-13,9,-5,-10,12,8,-6,
12,-10,-18,12,18,-15,6,-11,10,-8,4,-9,11,-5,9,-12,6,-10,12,-8,13,-11,5,-6,3,-12,11,-9,10,-5,12,-8,-8,10,12,-6,-9,11,5,-10,
9,-12,4,-7,9,-5,12,-10,13,-6,5,-8,10,-12,9,-4,6,-13,11,-6,4,-11,9,-7,12,-9,10,-5,7,-12,13,-8,-9,11,6,-10,12,-4,-7,10,
4,-12,11,-6,9,-9,12,-5,6,-11,13,-8,3,-10,12,-6,10,-13,7,-4,9,-12,12,-7,4,-11,11,-8,12,-5,9,-12,-6,10,11,-9,4,-8,12,-6,
12,-10,5,-9,11,-6,9,-12,10,-4,3,-9,12,-11,10,-6,12,-8,-15,15,15,-12,6,-9,11,-5,13,-10,9,-4,4,-11,12,-8,10,-13,7,-6,13,-9,
7,-9,12,-5,4,-10,13,-8,11,-6,10,-4,6,-11,9,-7,3,-10,11,-5,11,-13,9,-6,5,-10,10,-4,11,-8,12,-6,-9,10,13,-11,6,-5,12,-7
]
const trace_R7FA5 = [
7,-9,3,-5,8,-6,4,-8,6,-3,9,-25,12,-6,4,-10,9,-5,7,-4,-5,7,-9,4,6,-3,8,-7,5,-9,6,-4,7,-9,10,-6,5,-8,3,-8,
8,-6,4,-10,7,-3,5,-8,9,-2,4,-7,9,-4,6,-10,8,-5,6,-7,5,-9,10,-6,4,-8,7,-10,6,-5,9,-7,4,-8,6,-5,18,-12,10,-7,
6,-9,4,-6,8,-5,7,-10,4,-7,9,-6,4,-8,9,-3,6,-7,5,-10,8,-6,4,-9,8,-5,9,-7,4,-6,7,-9,5,-4,8,-10,6,-5,6,-9,
9,-6,3,-7,10,-5,7,-9,4,-8,5,-6,9,-8,4,-10,7,-5,6,-9,4,-10,7,-3,8,-6,5,-8,7,-9,6,-4,8,-10,5,-6,7,-9,3,-7,
8,-7,4,-6,9,-5,6,-8,3,-9,7,-5,8,-10,6,-4,9,-7,8,-6,5,-10,8,-4,6,-7,9,-8,4,-10,8,-6,7,-9,10,-12,12,-15,15,-20,
30,-35,40,-45,50,-55,60,-65,70,-75,80,-90,98,-110,118,-85,75,-72,70,-60,65,-68,70,-75,80,-95,103,-95,90,-75,60,-58,55,-52,50,-45,40,-35,30,-32,
30,-28,14,-25,25,-12,22,-24,28,-18,30,-26,22,-14,26,-20,8,-24,20,-10,27,-22,25,-18,24,-12,20,-26,26,-14,22,-18,30,-20,28,-25,52,-35,40,-30,
30,-26,12,-22,22,-10,28,-26,25,-14,20,-18,28,-22,24,-16,18,-26,22,-8,22,-25,19,-20,27,-15,23,-18,20,-12,25,-22,24,-18,18,-20,26,-21,21,-15,
22,-25,10,-19,19,-8,27,-22,24,-12,20,-18,28,-24,23,-15,21,-26,26,-20,18,-14,24,-20,25,-15,21,-19,27,-22,30,-35,45,-38,38,-28,24,-20,22,-18,
25,-20,10,-23,23,-14,26,-20,19,-10,24,-18,22,-16,18,-21,26,-12,21,-15,20,-18,25,-22,17,-9,22,-20,24,-15,19,-16,21,-14,23,-18,18,-12,20,-15,
14,-6,11,-15,4,-11,15,-8,14,-10,10,-15,7,-3,13,-14,14,-9,3,-12,15,-12,9,-6,14,-11,9,-14,5,-9,10,-13,12,-7,15,-10,8,-11,12,-15,
13,-8,11,-14,14,-7,12,-10,10,-15,13,-9,14,-12,12,-6,11,-15,15,-10,13,-12,30,-20,35,-25,48,-40,35,-52,40,-30,35,-28,30,-25,28,-22,20,-18,
25,-18,20,-15,15,-8,6,-11,11,-7,13,-9,4,-10,12,-14,14,-6,8,-12,12,-10,13,-8,5,-12,14,-11,11,-8,7,-12,13,-6,10,-9,3,-12,14,-10,
11,-7,5,-10,12,-8,10,-13,14,-6,12,-9,6,-11,13,-10,10,-7,4,-12,13,-9,12,-8,8,-13,10,-12,12,-5,11,-8,4,-12,14,-11,10,-6,7,-9,
6,-10,11,-13,13,-7,14,-10,5,-9,10,-13,12,-6,8,-14,14,-9,11,-8,3,-10,12,-11,13,-8,6,-12,12,-7,14,-10,9,-12,4,-11,13,-8,12,-9,
14,-10,12,-13,20,-15,18,-12,12,-8,13,-11,11,-9,14,-12,13,-7,10,-12,12,-8,11,-13,14,-9,13,-10,11,-8,12,-10,10,-13,14,-12,12,-6,11,-9,
11,-8,13,-10,12,-6,10,-13,14,-9,12,-10,13,-8,11,-12,15,-10,14,-11,12,-18,25,-20,25,-15,20,-14,15,-9,13,-10,12,-8,14,-11,11,-9,12,-8,
13,-9,11,-12,14,-8,12,-11,12,-6,13,-10,11,-9,14,-12,20,-15,18,-12,13,-8,12,-10,10,-9,14,-11,12,-8,11,-9,13,-10,15,-12,11,-7,13,-10,
14,-10,12,-15,25,-35,20,-14,15,-9,13,-10,12,-8,14,-10,11,-9,13,-8,14,-10,12,-9,15,-11,11,-8,13,-10,14,-10,12,-9,15,-11,14,-10,13,-9,
15,-12,14,-16,18,-14,16,-15,20,-18,22,-24,30,-28,35,-32,40,-38,45,-42,45,-40,40,-35,35,-28,30,-24,25,-20,20,-18,16,-12,14,-11,13,-10,15,-12,
14,-10,13,-12,15,-9,12,-10,16,-12,14,-10,13,-11,15,-12,14,-10,12,-9,15,-12,18,-15,20,-18,22,-20,25,-22,28,-25,30,-25,30,-28,40,-30,35,-32,
40,-32,35,-28,25,-20,18,-14,15,-11,13,-10,12,-10,14,-11,11,-8,13,-10,12,-9,10,-13,14,-10,12,-9,11,-8,13,-10,20,-15,18,-12,12,-8,11,-9,
13,-6,5,-10,12,-9,14,-10,8,-5,12,-9,4,-7,11,-13,14,-8,10,-6,7,-11,13,-10,11,-6,3,-9,12,-8,10,-11,13,-7,6,-10,11,-8,14,-9,
5,-10,13,-9,10,-6,8,-13,14,-9,11,-8,6,-12,10,-13,12,-7,14,-10,11,-9,4,-8,10,-13,12,-9,7,-10,11,-12,14,-8,9,-11,3,-9,13,-10,
15,-12,17,-14,18,-10,14,-16,16,-12,19,-15,14,-10,17,-13,20,-14,15,-12,17,-13,18,-14,15,-11,16,-13,19,-14,14,-11,17,-13,20,-15,16,-12,18,-14,
18,-14,16,-12,15,-13,19,-14,17,-12,14,-11,20,-15,18,-14,16,-11,17,-13,19,-14,15,-12,18,-16,20,-15,14,-11,17,-13,16,-12,19,-14,18,-13,15,-12,
17,-13,19,-15,16,-12,20,-16,22,-18,25,-20,30,-35,28,-45,28,-20,22,-16,18,-14,17,-12,20,-15,16,-12,18,-14,22,-18,25,-22,30,-25,35,-30,32,-38,
40,-32,35,-30,38,-40,48,-42,47,-38,40,-32,35,-28,30,-25,25,-20,22,-18,18,-14,15,-12,12,-9,14,-11,11,-8,13,-10,12,-9,10,-8,13,-10,12,-9,
11,-6,13,-9,12,-8,14,-10,4,-8,12,-9,13,-7,9,-12,14,-6,5,-10,11,-9,10,-12,7,-8,14,-11,12,-5,3,-8,10,-12,13,-9,8,-10,11,-7,
13,-8,9,-6,5,-11,14,-10,12,-7,6,-9,14,-10,13,-8,3,-9,12,-11,10,-7,11,-12,8,-6,14,-10,12,-9,4,-8,11,-10,12,-9,6,-8,10,-12,
12,-9,14,-10,11,-8,13,-12,13,-10,12,-9,14,-11,11,-8,20,-16,18,-14,15,-11,13,-10,12,-9,14,-13,16,-12,15,-12,18,-15,17,-14,20,-18,22,-18,
25,-22,28,-30,40,-35,32,-26,30,-22,25,-20,22,-18,20,-15,18,-14,16,-12,15,-12,17,-14,16,-11,14,-12,18,-15,15,-12,17,-14,16,-13,15,-12,18,-14,
16,-12,18,-15,20,-16,17,-13,15,-11,19,-16,18,-14,16,-12,20,-17,17,-14,15,-11,18,-14,19,-15,16,-12,17,-14,20,-16,16,-12,15,-13,18,-14,17,-13,
17,-13,16,-12,19,-15,18,-14,20,-16,17,-13,16,-12,19,-15,18,-14,20,-16,25,-20,22,-18,19,-15,17,-13,16,-12,18,-14,20,-16,19,-15,17,-13,16,-12,
18,-14,20,-16,17,-13,19,-15,20,-16,22,-18,19,-15,18,-14,21,-17,23,-18,30,-24,28,-22,20,-16,22,-18,35,-28,30,-24,22,-18,24,-19,20,-16,21,-17
]
const trace_R0353 = [
35,-28,20,-40,45,-30,38,-45,30,-15,25,-42,35,-20,30,-38,28,-40,15,-32,38,-45,25,-30,50,-35,42,-28,20,-40,45,-52,76,-60,50,-30,45,-50,38,-42,
55,-70,60,-45,105,-95,80,-60,60,-55,48,-62,52,-40,40,-45,30,-50,35,-25,45,-38,28,-30,42,-35,20,-40,35,-28,30,-38,40,-22,33,-30,25,-35,28,-20,
30,-35,18,-25,40,-28,32,-20,28,-35,15,-38,26,-30,33,-18,30,-36,22,-28,25,-14,34,-30,20,-27,35,-25,32,-29,18,-33,28,-22,30,-35,24,-15,32,-28,
33,-28,20,-36,31,-18,27,-35,30,-22,26,-34,38,-25,29,-32,15,-37,28,-20,31,-35,22,-28,34,-30,24,-18,38,-32,30,-25,35,-40,45,-38,60,-45,-65,40,
40,-35,25,-45,42,-30,38,-48,44,-28,36,-46,42,-38,30,-48,44,-35,40,-50,28,-42,45,-38,35,-30,48,-44,25,-40,42,-36,55,-52,48,-40,45,-35,30,-40,
45,-50,40,-55,70,-60,55,-48,50,-70,60,-75,80,-110,100,-85,80,-60,60,-55,48,-52,45,-40,50,-48,42,-45,38,-50,45,-35,40,-48,42,-30,35,-45,40,-38,
40,-45,30,-38,42,-28,45,-40,35,-25,38,-30,35,-40,30,-22,32,-35,28,-30,34,-30,22,-33,27,-35,30,-25,29,-35,32,-28,35,-30,22,-34,30,-25,35,-32,
50,-45,35,-30,30,-33,20,-28,30,-25,32,-26,18,-29,31,-22,27,-34,24,-30,30,-28,33,-20,25,-31,18,-35,30,-26,31,-22,35,-30,28,-25,55,-40,-50,35,
32,-30,22,-28,33,-25,30,-27,20,-35,32,-24,29,-34,25,-20,28,-30,22,-26,45,-35,-70,40,38,-30,25,-26,28,-20,25,-22,18,-24,27,-15,22,-24,20,-18,
22,-25,14,-20,23,-16,24,-21,12,-19,22,-18,23,-20,15,-25,24,-12,21,-19,22,-15,23,-20,10,-21,24,-22,18,-14,21,-19,16,-23,20,-12,21,-24,22,-15,
21,-23,12,-20,22,-16,24,-20,14,-19,21,-15,23,-22,16,-20,25,-18,22,-24,14,-20,28,-22,20,-30,30,-25,22,-18,21,-15,20,-22,17,-19,20,-14,16,-20,
22,-20,12,-19,23,-15,21,-18,14,-20,22,-12,18,-21,16,-19,10,-17,20,-14,19,-18,11,-20,17,-15,19,-12,18,-20,10,-17,19,-14,18,-16,12,-19,18,-12,
17,-15,10,-18,16,-12,14,-17,16,-9,15,-17,14,-10,17,-14,12,-15,16,-11,15,-16,9,-13,15,-12,16,-14,11,-15,14,-10,13,-15,16,-9,14,-13,12,-16,
15,-14,8,-13,15,-10,14,-12,9,-15,13,-11,15,-9,12,-14,13,-8,12,-12,14,-10,11,-13,8,-14,13,-11,12,-9,11,-13,12,-8,10,-12,13,-9,12,-11,
12,-11,7,-13,12,-9,10,-12,11,-6,12,-10,11,-8,12,-11,7,-10,12,-9,10,-12,11,-7,9,-11,10,-6,11,-9,10,-11,6,-9,10,-8,11,-10,8,-9,
9,-8,5,-10,9,-6,7,-8,9,-5,8,-7,9,-4,6,-8,7,-6,8,-5,7,-8,4,-6,8,-7,6,-5,7,-8,9,-7,8,-6,9,-8,10,-7,9,-9,
10,-11,6,-9,12,-8,11,-10,7,-12,10,-9,12,-6,11,-10,12,-8,10,-12,11,-9,7,-12,11,-10,12,-6,11,-13,10,-12,9,-10,12,-7,11,-12,10,-9,
12,-11,8,-13,12,-10,14,-12,13,-9,15,-13,14,-20,22,-18,20,-22,18,-20,20,-18,22,-15,18,-22,20,-16,21,-18,19,-22,20,-18,22,-20,25,-18,24,-23,
28,-24,28,-22,24,-18,22,-23,20,-21,23,-19,21,-22,20,-18,22,-20,18,-21,22,-17,20,-22,18,-20,15,-13,12,-11,10,-9,11,-8,10,-11,9,-7,11,-9,
8,-10,4,-8,10,-6,3,-7,9,-10,5,-9,10,-4,7,-8,3,-9,10,-6,8,-4,9,-10,6,-8,10,-5,7,-9,4,-10,8,-6,10,-9,5,-7,9,-8,
9,-5,10,-9,4,-10,7,-8,3,-9,10,-7,5,-8,10,-3,8,-10,6,-8,7,-10,5,-9,10,-6,4,-8,9,-7,10,-5,8,-9,6,-10,3,-8,9,-6,
4,-9,10,-6,9,-3,10,-9,5,-10,9,-4,7,-9,10,-5,3,-10,8,-9,6,-8,10,-4,9,-10,7,-5,8,-9,10,-6,4,-9,8,-10,12,-8,10,-12,
12,-15,14,-18,20,-16,22,-25,20,-24,24,-20,22,-18,20,-23,22,-19,20,-22,18,-20,15,-12,10,-13,12,-9,8,-10,9,-8,10,-6,9,-8,4,-10,8,-9,
9,-4,10,-9,6,-10,3,-7,8,-9,10,-5,9,-10,4,-9,7,-3,10,-9,8,-10,5,-9,10,-6,9,-4,8,-10,6,-9,10,-5,3,-8,9,-10,7,-6,
5,-10,9,-8,3,-9,8,-7,10,-4,8,-9,10,-6,3,-7,8,-10,9,-4,9,-6,10,-9,5,-8,4,-10,9,-7,10,-3,8,-9,6,-10,9,-5,7,-9,
10,-6,8,-10,4,-8,7,-9,10,-3,9,-10,5,-9,10,-7,4,-8,8,-10,6,-9,10,-4,8,-10,9,-6,3,-9,10,-8,7,-5,9,-10,6,-9,10,-4,
9,-5,10,-9,3,-10,9,-6,7,-9,10,-4,9,-10,6,-9,10,-3,8,-10,4,-9,10,-7,9,-5,8,-10,6,-9,10,-6,9,-4,10,-9,12,-10,8,-11,
15,-12,10,-18,28,-22,20,-14,12,-10,9,-8,10,-9,8,-10,5,-9,10,-8,9,-4,10,-9,8,-10,6,-9,10,-5,8,-10,9,-6,10,-8,4,-9,10,-9,
12,-14,15,-18,18,-20,22,-25,25,-22,28,-30,30,-28,35,-38,42,-25,30,-22,20,-18,16,-14,14,-12,10,-12,9,-10,12,-10,9,-11,10,-12,20,-15,-18,12,
12,-6,9,-8,4,-9,8,-10,3,-8,10,-9,5,-10,9,-4,10,-9,6,-10,3,-8,10,-9,6,-10,9,-4,10,-9,8,-5,9,-8,10,-3,8,-10,9,-6,
10,-5,8,-12,12,-10,4,-8,10,-9,6,-10,9,-3,10,-9,5,-10,9,-8,6,-10,8,-4,10,-8,9,-10,3,-9,10,-7,5,-10,8,-9,10,-4,9,-10,
8,-3,10,-8,9,-10,5,-9,12,-10,12,-9,10,-6,9,-10,3,-9,10,-8,6,-10,8,-4,10,-9,5,-10,9,-8,9,-3,10,-9,6,-10,8,-5,10,-9,
6,-10,8,-4,10,-8,9,-10,3,-9,10,-7,5,-10,8,-9,10,-4,9,-10,8,-3,10,-8,9,-10,5,-9,10,-6,9,-10,3,-9,10,-8,6,-10,8,-4,
8,-3,10,-8,9,-10,5,-9,10,-6,9,-10,3,-9,10,-8,6,-10,8,-4,10,-5,8,-9,6,-10,9,-7,10,-3,8,-10,9,-6,10,-9,4,-8,10,-9,
10,-12,20,-20,20,-15,12,-8,9,-5,10,-9,3,-10,9,-7,10,-4,8,-10,6,-8,9,-10,5,-9,10,-6,8,-9,10,-4,9,-10,6,-9,15,-18,-20,12
]
const traces = [trace_RB5E8, trace_RB30C, trace_CCA1, trace_R480A, trace_RD93E,
  trace_R82BD, trace_R9FEE, trace_R7FA5, trace_R0353]

// layout
const plotLeft = 152
const plotWidth = 1672.5
const panelTop = 88.3
const panelHeight = 102.63
const tMin = 600.5
const tMax = 949.4
const font = 'DejaVu Sans'

// 2.0e-06 style labels
const sciLabel = v => {
  if (v === 0) return '0.0e+00'
  const [m, e] = v.toExponential(1).split('e')
  const n = Number(e)
  return m + 'e' + (n < 0 ? '-' : '+') + String(Math.abs(n)).padStart(2, '0')
}

const grids = []
const xAxes = []
const yAxes = []
const series = []
const graphics = []

stations.forEach((name, i) => {
  const top = panelTop + i * panelHeight
  const lim = yLimits[i]
  const yt = [-yTickValues[i], 0, yTickValues[i]]
  grids.push({ left: plotLeft, top: top, width: plotWidth, height: panelHeight })

  // bottom and top x axes, ticks pointing in
  ;['bottom', 'top'].forEach(pos => {
    xAxes.push({
      gridIndex: i, type: 'value', position: pos, min: tMin, max: tMax,
      axisLine: { show: true, onZero: false, lineStyle: { color: '#000', width: 1 } },
      axisTick: { show: true, inside: true, length: 4, customValues: xTickValues, lineStyle: { color: '#000' } },
      axisLabel: {
        show: pos === 'bottom' && i === stations.length - 1, customValues: xTickValues,
        color: '#000', fontSize: 12.5, fontFamily: font, margin: 6
      },
      splitLine: { show: false }
    })
  })
  // left (labels, ticks out) and right (ticks in) y axes
  ;['left', 'right'].forEach(pos => {
    yAxes.push({
      gridIndex: i, type: 'value', position: pos, min: -lim, max: lim,
      axisLine: { show: true, onZero: false, lineStyle: { color: '#000', width: 1 } },
      axisTick: { show: true, inside: pos === 'right', length: 4, customValues: yt, lineStyle: { color: '#000' } },
      axisLabel: {
        show: pos === 'left', customValues: yt, formatter: sciLabel,
        color: '#000', fontSize: 12.5, fontFamily: font, margin: 6
      },
      splitLine: { show: false }
    })
  })

  const times = [pTimes[i], pcpTimes[i], pPTimes[i], ppTimes[i]]
  const step = sampleSteps[i]
  // the trace
  series.push({
    type: 'line',
    xAxisIndex: i * 2, yAxisIndex: i * 2,
    data: traces[i].map((v, k) => [tStart + k * step, v * ampUnits[i]]),
    showSymbol: false, symbol: 'none', sampling: 'none',
    lineStyle: { color: '#1f77b4', width: 1 },
    silent: true, z: 2,
    markLine: {
      silent: true, symbol: ['none', 'none'], animation: false,
      label: { show: false },
      data: times.map((t, k) => ({
        xAxis: t,
        lineStyle: { color: phaseColors[k], type: [6, 3], width: 1.5 }
      }))
    }
  })
  // phase names under the dashed lines
  series.push({
    type: 'scatter',
    xAxisIndex: i * 2, yAxisIndex: i * 2,
    symbolSize: 1, itemStyle: { color: 'rgba(0,0,0,0)' }, silent: true, z: 3,
    data: times.map((t, k) => ({
      value: [t, -lim * 0.81],
      label: {
        show: true, formatter: phaseNames[k], position: 'left', distance: 4,
        color: phaseColors[k], fontSize: 13.9, fontFamily: font
      }
    }))
  })
  // station name
  graphics.push({
    type: 'text', x: 169, y: top + 9.7,
    style: { text: name, fill: '#000', fontSize: 13.9, fontFamily: font, verticalAlign: 'middle' }
  })
})

const titleLines = [
  'M6.3 264km NW of Ozernovskiy, Russia 2019-11-20 08:26:08.017000',
  'from the Raspberry Shake Network and BGS seismometers CCA1, HTL & DYA',
  'depth: 496.0 km, distance: 8373.0 km.'
]
titleLines.forEach((t, k) => {
  graphics.push({
    type: 'text', x: 950, y: 15 + k * 17.5,
    style: { text: t, fill: '#000', fontSize: 13.9, fontFamily: font, align: 'center', verticalAlign: 'middle' }
  })
})
graphics.push({
  type: 'text', x: 18, y: 551, rotation: Math.PI / 2,
  style: { text: 'Velocity [m/s]', fill: '#000', fontSize: 13.9, fontFamily: font, align: 'center', verticalAlign: 'middle' }
})
graphics.push({
  type: 'text', x: 950, y: 1082,
  style: { text: 'Time since earthquake [s]', fill: '#000', fontSize: 13.9, fontFamily: font, align: 'center', verticalAlign: 'middle' }
})
graphics.push({
  type: 'text', x: 18, y: 1082,
  style: { text: 'Channel: EHZ, filter: "bandpass", freqmin=1.3, freqmax=3.3, corners=4', fill: '#000', fontSize: 13.9, fontFamily: font, verticalAlign: 'middle' }
})
const arrivalLines = [
  ['First Arrivals at R7FA5', '#000'],
  ['P time: 650.46s', '#1f77b4'],
  ['PcP time: 661.11s', '#aec7e8'],
  ['pP time: 756.35s', '#ff7f0e']
]
arrivalLines.forEach(([t, c], k) => {
  graphics.push({
    type: 'text', x: 1520, y: 1051 + k * 13.3,
    style: { text: t, fill: c, fontSize: 13.9, fontFamily: font, verticalAlign: 'middle' }
  })
})

const chart = echarts.init(document.getElementById('chart'), null, { renderer: 'svg' })
chart.setOption({
  animation: false,
  backgroundColor: '#fff',
  grid: grids,
  xAxis: xAxes,
  yAxis: yAxes,
  series: series,
  graphic: graphics
})
</script>
</body>
</html>
